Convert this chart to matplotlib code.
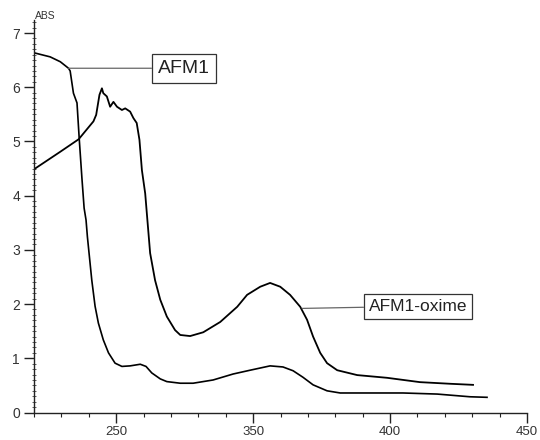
import matplotlib
matplotlib.use('Agg')
import matplotlib.pyplot as plt
from matplotlib.ticker import MultipleLocator, FixedLocator, FixedFormatter

plt.rcParams['font.family'] = ['Liberation Sans', 'DejaVu Sans']

# Spectra (wavelength on the chart's own scale, absorbance)
afm1_x = [270.4, 275.9, 279.6, 282.6, 283.2, 284.4, 285.7, 286.5, 287.5, 288.3,
          289.0, 289.5, 291.1, 292.3, 293.5, 295.3, 297.2, 299.6, 302.1, 305.1,
          308.8, 310.9, 313.0, 316.1, 318.5, 323.4, 328.1, 335.4, 342.7, 348.9,
          356.2, 360.9, 364.6, 368.2, 371.9, 377.0, 381.8, 392.7, 404.7, 417.2,
          429.2, 435.4]
afm1_y = [6.63, 6.56, 6.47, 6.35, 6.30, 5.89, 5.71, 5.06, 4.32, 3.77,
          3.55, 3.24, 2.44, 1.96, 1.65, 1.34, 1.10, 0.91, 0.85, 0.86,
          0.89, 0.85, 0.73, 0.62, 0.57, 0.54, 0.54, 0.60, 0.71, 0.78,
          0.86, 0.84, 0.77, 0.65, 0.51, 0.40, 0.36, 0.36, 0.36, 0.34,
          0.29, 0.28]

oxime_x = [270.4, 279.6, 286.3, 291.7, 292.7, 293.9, 294.8, 295.3, 296.6, 297.8,
           299.0, 300.3, 302.1, 303.3, 305.1, 306.3, 307.5, 308.5, 309.4, 310.6,
           311.4, 312.4, 314.2, 316.1, 318.5, 321.5, 323.4, 327.0, 331.8, 338.0,
           344.2, 347.8, 352.6, 356.2, 359.9, 363.5, 367.2, 369.7, 371.9, 374.5,
           377.0, 380.7, 388.0, 398.9, 410.9, 421.9, 430.3]
oxime_y = [4.50, 4.81, 5.04, 5.37, 5.49, 5.86, 5.98, 5.89, 5.83, 5.64,
           5.73, 5.64, 5.58, 5.61, 5.55, 5.43, 5.34, 5.03, 4.47, 4.04,
           3.55, 2.94, 2.44, 2.08, 1.77, 1.52, 1.43, 1.41, 1.48, 1.67,
           1.95, 2.17, 2.32, 2.39, 2.32, 2.17, 1.95, 1.71, 1.40, 1.10,
           0.91, 0.78, 0.69, 0.64, 0.56, 0.53, 0.51]

x_ticks = [300, 350, 400, 450]
x_labels = ['250', '350', '400', '450']
y_ticks = [0, 1, 2, 3, 4, 5, 6, 7]

fig = plt.figure(figsize=(5.4, 4.4), dpi=100)
ax = fig.add_axes([34 / 540, 27.5 / 440, 493 / 540, 392.5 / 440])

ax.plot(afm1_x, afm1_y, color='black', lw=1.2)
ax.plot(oxime_x, oxime_y, color='black', lw=1.3)

ax.set_xlim(270, 450)
ax.set_ylim(0, 7.24)

for s in ['top', 'right']:
    ax.spines[s].set_visible(False)
for s in ['left', 'bottom']:
    ax.spines[s].set_color('#222222')
    ax.spines[s].set_linewidth(1.0)

ax.xaxis.set_major_locator(FixedLocator(x_ticks))
ax.xaxis.set_major_formatter(FixedFormatter(x_labels))
ax.xaxis.set_minor_locator(MultipleLocator(10))
ax.yaxis.set_major_locator(FixedLocator(y_ticks))
ax.yaxis.set_minor_locator(MultipleLocator(0.1))

ax.tick_params(axis='x', which='major', direction='out', length=7, width=1,
               pad=2.5, labelsize=9.5, labelcolor='#333333', color='#222222')
ax.tick_params(axis='x', which='minor', direction='out', length=3, width=0.8,
               color='#222222')
ax.tick_params(axis='y', which='major', direction='out', length=7, width=1,
               pad=3, labelsize=10, labelcolor='#333333', color='#222222')
ax.tick_params(axis='y', which='minor', direction='inout', length=3, width=0.6,
               color='#444444')

fig.text(35 / 540, 1 - 16 / 440, 'ABS', fontsize=7.5, color='#333333',
         ha='left', va='center')

ax.annotate('AFM1', xy=(282.6, 6.35), xytext=(324.8, 6.35),
            ha='center', va='center', fontsize=14, color='#222222',
            bbox=dict(boxstyle='square,pad=0.32', fc='white', ec='#333333', lw=0.9),
            arrowprops=dict(arrowstyle='-', color='#666666', lw=0.9,
                            shrinkA=0, shrinkB=0))

ax.annotate('AFM1-oxime', xy=(367.9, 1.92), xytext=(410.2, 1.96),
            ha='center', va='center', fontsize=12.5, color='#222222',
            bbox=dict(boxstyle='square,pad=0.28', fc='white', ec='#333333', lw=0.9),
            arrowprops=dict(arrowstyle='-', color='#666666', lw=0.9,
                            shrinkA=0, shrinkB=0))

plt.savefig('out.png', dpi=100)
plt.close()
